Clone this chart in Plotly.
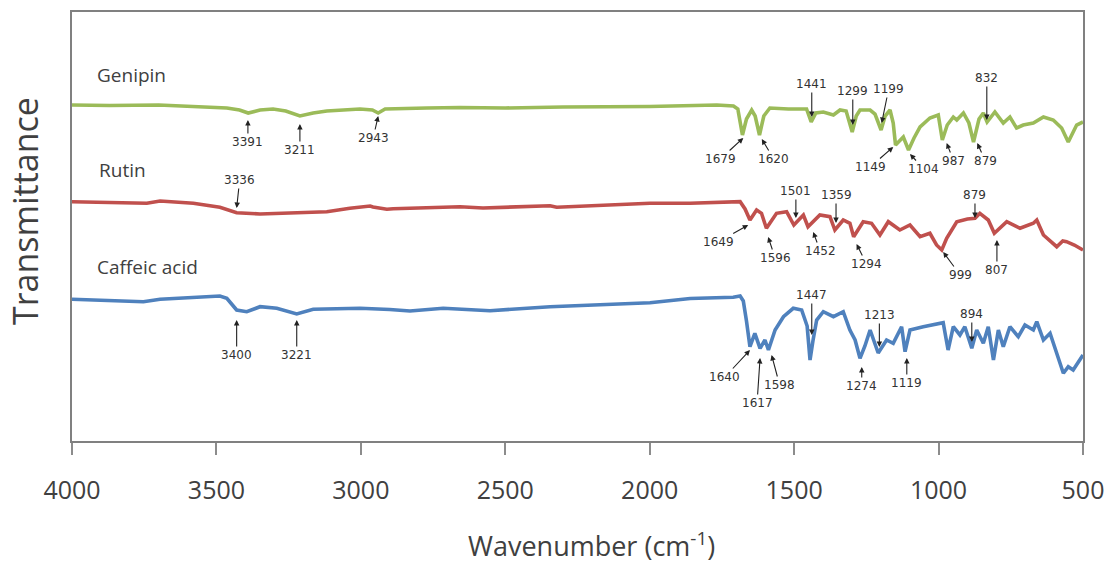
import plotly.graph_objects as go

# ---------------- data ----------------
genipin_wn = [4000, 3870, 3700, 3464, 3420, 3390, 3349, 3304, 3260, 3211, 3165, 3118, 3003, 2960,
              2940, 2916, 2772, 2657, 2500, 2300, 2000, 1768, 1710, 1695, 1679, 1665, 1647, 1635,
              1620, 1605, 1584, 1520, 1457, 1441, 1425, 1399, 1364, 1341, 1320, 1299, 1285, 1272,
              1237, 1220, 1199, 1185, 1168, 1157, 1149, 1122, 1104, 1085, 1064, 1030, 1001, 987,
              970, 949, 937, 914, 895, 879, 860, 845, 832, 815, 805, 776, 753, 730, 707, 672, 637,
              603, 574, 551, 522, 500]
genipin_t = [336, 335.5, 336, 333, 331, 328, 331, 332, 330, 325, 328, 330, 332, 331,
             328, 332, 333, 333.5, 333, 334, 334.5, 336, 335, 332, 306, 322, 331, 325,
             306, 325, 333, 332, 332, 319, 328, 329, 326, 331, 330, 309, 325, 331,
             331, 327, 311, 325, 331, 318, 296, 304, 291, 303, 314, 323, 326, 301,
             316, 324, 321, 328, 318, 299, 322, 328, 319, 325, 329, 318, 324, 313, 316, 318, 324,
             321, 313, 299, 316, 319]

rutin_wn = [4000, 3868, 3741, 3695, 3580, 3488, 3430, 3349, 3200, 3118, 3038, 2968, 2958, 2910,
            2888, 2657, 2577, 2345, 2322, 2150, 1999, 1860, 1711, 1687, 1670, 1653, 1630, 1613,
            1596, 1561, 1526, 1501, 1468, 1452, 1411, 1376, 1359, 1330, 1307, 1294, 1261, 1232,
            1203, 1174, 1134, 1099, 1064, 1030, 1007, 989, 972, 937, 900, 874, 857, 828, 807,
            764, 718, 672, 660, 637, 591, 570, 557, 530, 500]
rutin_t = [239.3, 238.7, 237.7, 240, 237.7, 233.7, 228.3, 227, 228, 229.3, 232.7, 235, 234, 231.7,
           232.3, 234.3, 233, 235.3, 233.7, 236, 237.7, 237.7, 238.7, 239.3, 232, 221, 231, 227.7,
           212.7, 227.7, 229.3, 216, 226, 214.3, 226, 224.3, 211, 221, 217.7, 204.3, 219.3, 217.7,
           206, 219.3, 211, 216, 204.3, 207.7, 196, 191, 202.7, 219.3, 222, 222.7, 227.7, 221, 207.7,
           219.3, 212.7, 217.7, 221, 206, 194.3, 200, 199.3, 196, 191]

caffeic_wn = [4000, 3900, 3753, 3695, 3600, 3488, 3464, 3430, 3395, 3349, 3291, 3222, 3165, 3003,
              2900, 2830, 2715, 2553, 2345, 2200, 1999, 1860, 1711, 1687, 1676, 1665, 1653, 1636,
              1618, 1601, 1589, 1566, 1537, 1503, 1474, 1455, 1445, 1435, 1422, 1399, 1364, 1330,
              1307, 1289, 1272, 1255, 1237, 1209, 1180, 1157, 1128, 1116, 1099, 1053, 984, 967,
              949, 926, 909, 885, 868, 845, 828, 810, 793, 776, 753, 724, 701, 672, 660, 637,
              614, 591, 568, 551, 534, 500]
caffeic_t = [141.7, 141, 139.3, 141.7, 143, 145, 142.7, 131, 129.3, 134.3, 132.7, 127, 131.7, 132.7,
             131.5, 130, 132.7, 130.3, 134.3, 136, 138.3, 142.5, 143.7, 145, 140, 120, 94.3, 107.7,
             92.7, 101, 91, 111, 124.3, 132.7, 131, 115, 81, 100, 121, 129.3, 124.3, 129.3,
             111, 101, 82.7, 95, 111, 88, 101, 97.7, 114.3, 89.3, 111, 114.3, 118.3, 91,
             114.3, 106, 114.3, 92.7, 111, 97.7, 114.3, 81, 111, 94.3, 114.3, 104.3, 116, 111, 119.3, 101,
             107.7, 87.7, 67.7, 74.3, 71, 86]

series_names = ["Genipin", "Rutin", "Caffeic acid"]
series_colors = ["#9BBB59", "#C0504D", "#4F81BD"]
x_ticks = [4000, 3500, 3000, 2500, 2000, 1500, 1000, 500]
x_title = "Wavenumber (cm<sup>-1</sup>)"
y_title = "Transmittance"

# peak labels: text, arrow-head wavenumber, arrow-head transmittance, label offset (px)
peak_labels = [
    ("3391", 3391, 321, 0, 22), ("3211", 3211, 317, 0, 26), ("2943", 2940, 325, -5, 22),
    ("1679", 1676, 303, -23, 21), ("1620", 1612, 302, 12, 20), ("1441", 1439, 324, 0, -33),
    ("1299", 1297, 316, 0, -34), ("1199", 1197, 318, 7, -34), ("1149", 1157, 294, -23, 20),
    ("1104", 1099, 287, 14, 15), ("987", 972, 298, 7, 18), ("879", 866, 298, 8, 18),
    ("832", 833, 321, 0, -42),
    ("3336", 3430, 233, 3, -28), ("1649", 1659, 216, -30, 17), ("1596", 1590, 204, 7, 21),
    ("1501", 1494, 223, 0, -27), ("1452", 1434, 209, 7, 19), ("1359", 1355, 218, 0, -28),
    ("1294", 1284, 197, 10, 20), ("999", 984, 189, 17, 23), ("879", 874, 223, 0, -23),
    ("807", 798, 201, 0, 30),
    ("3400", 3430, 121, 0, 35), ("3221", 3222, 121, 0, 35), ("1640", 1653, 91, -25, 27),
    ("1617", 1618, 83, -3, 45), ("1598", 1578, 86, 8, 30), ("1447", 1439, 106, 0, -40),
    ("1274", 1266, 74, 0, 19), ("1213", 1205, 94, 0, -32), ("1119", 1110, 83, 0, 25),
    ("894", 885, 99, 0, -28),
]
# series name label anchors (wavenumber, transmittance)
name_pos = [(3920, 366), (3913, 271), (3920, 174)]

# ---------------- figure ----------------
fig = go.Figure()
for name, wn, t, col in zip(series_names, [genipin_wn, rutin_wn, caffeic_wn],
                            [genipin_t, rutin_t, caffeic_t], series_colors):
    fig.add_trace(go.Scatter(x=wn, y=t, mode="lines", name=name, showlegend=False,
                             line=dict(color=col, width=3.6),
                             hoverinfo="skip"))

annotations = []
for text, wx, ty, ax, ay in peak_labels:
    annotations.append(dict(x=wx, y=ty, xref="x", yref="y", text=text, showarrow=True,
                            ax=ax, ay=ay, arrowhead=2, arrowsize=1, arrowwidth=1.1,
                            arrowcolor="#222222", standoff=0,
                            font=dict(family="DejaVu Sans", size=12, color="#333333")))
for name, (wx, ty) in zip(series_names, name_pos):
    annotations.append(dict(x=wx, y=ty, xref="x", yref="y", text=name, showarrow=False,
                            xanchor="left", yanchor="middle",
                            font=dict(family="Open Sans", size=19, color="#404040")))
# axis titles
annotations.append(dict(x=-0.0465, y=0.536, xref="paper", yref="paper", text=y_title,
                        showarrow=False, textangle=-90, xanchor="center", yanchor="middle",
                        font=dict(family="Open Sans", size=34, color="#404040")))
annotations.append(dict(x=0.514, y=-0.242, xref="paper", yref="paper", text=x_title,
                        showarrow=False, xanchor="center", yanchor="middle",
                        font=dict(family="Open Sans", size=27, color="#404040")))

tick_font = dict(family="Open Sans", size=25, color="#404040")
fig.update_layout(
    width=1111, height=563,
    margin=dict(l=72, r=28, t=12, b=122, autoexpand=False),
    paper_bgcolor="white", plot_bgcolor="white",
    annotations=annotations,
    xaxis=dict(range=[4000, 500], tickvals=x_ticks, ticktext=[str(v) for v in x_ticks],
               ticks="outside", ticklen=12, tickwidth=1.5, tickcolor="#8c8c8c",
               showline=True, mirror=True, linecolor="#808080", linewidth=1.5,
               showgrid=False, zeroline=False, tickfont=tick_font, ticklabelstandoff=14,
               automargin=False),
    yaxis=dict(range=[0, 429], showticklabels=False, ticks="",
               showline=True, mirror=True, linecolor="#808080", linewidth=1.5,
               showgrid=False, zeroline=False, automargin=False),
    hovermode=False,
)

fig.write_html("out.html", config={"displayModeBar": False},
               post_script="document.body.style.margin='0px';")
